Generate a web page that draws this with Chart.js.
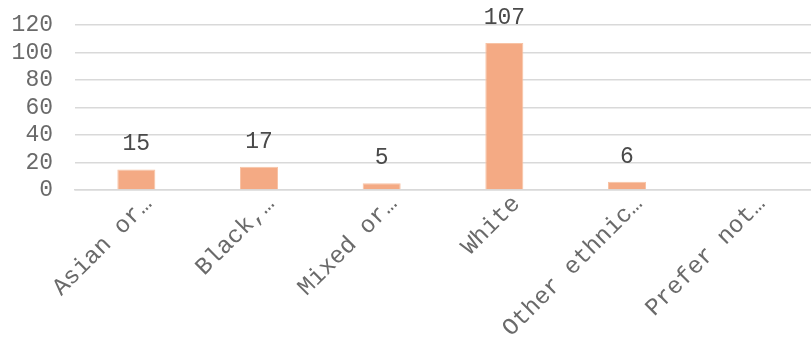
<!DOCTYPE html>
<html>
<head>
<meta charset="utf-8">
<script src="https://cdn.jsdelivr.net/npm/chart.js@4.4.1/dist/chart.umd.min.js"></script>
<style>
  html, body { margin: 0; padding: 0; background: #fff; }
  #wrap { width: 811px; height: 339px; }
</style>
</head>
<body>
<div id="wrap"><canvas id="myChart" width="811" height="339"></canvas></div>
<script>
// DATA
const categories = ["Asian or…", "Black,…", "Mixed or…", "White", "Other ethnic…", "Prefer not…"];
const counts = [15, 17, 5, 107, 6, 0];
const yTicks = { min: 0, max: 120, step: 20 };

const FONT = "'Liberation Mono', 'Courier New', monospace";

// writes the count above each bar (skips empty ones)
const valueLabels = {
  id: "valueLabels",
  afterDatasetsDraw(chart) {
    const ctx = chart.ctx;
    const meta = chart.getDatasetMeta(0);
    ctx.save();
    ctx.font = "23px " + FONT;
    ctx.fillStyle = "#4a4a4a";
    ctx.textAlign = "center";
    ctx.textBaseline = "alphabetic";
    meta.data.forEach((bar, i) => {
      const v = counts[i];
      if (!v) return;
      ctx.fillText(String(v), bar.x, bar.y - 19);
    });
    ctx.restore();
  },
};

const ctx = document.getElementById("myChart");
const chart = new Chart(ctx, {
  type: "bar",
  data: {
    labels: categories,
    datasets: [
      {
        data: counts,
        backgroundColor: "#f4aa84",
        borderColor: "#f8c3a5",
        borderWidth: 1,
        categoryPercentage: 1,
        barPercentage: 0.31,
      },
    ],
  },
  options: {
    responsive: false,
    animation: false,
    layout: { padding: { top: 25, right: 0, left: 0, bottom: 0 } },
    plugins: {
      legend: { display: false },
      tooltip: { enabled: false },
    },
    scales: {
      x: {
        grid: { display: false },
        border: { display: true, color: "#d9d9d9", width: 1.5 },
        ticks: {
          font: { family: FONT, size: 24 },
          color: "#6a6a6a",
          maxRotation: 45,
          minRotation: 45,
          autoSkip: false,
          labelOffset: 12,
          padding: -8,
        },
        afterFit(axis) {
          axis.height = 149;
          axis.paddingLeft = 0;
          axis.paddingRight = 0;
        },
      },
      y: {
        min: yTicks.min,
        max: yTicks.max,
        grid: { color: "#d9d9d9", lineWidth: 1.5, drawTicks: false },
        border: { display: false },
        ticks: {
          stepSize: yTicks.step,
          autoSkip: false,
          font: { family: FONT, size: 23 },
          color: "#6a6a6a",
          padding: 22,
        },
        afterFit(axis) {
          axis.width = 75;
          axis.paddingTop = 0;
          axis.paddingBottom = 0;
        },
      },
    },
  },
  plugins: [valueLabels],
});
</script>
</body>
</html>
